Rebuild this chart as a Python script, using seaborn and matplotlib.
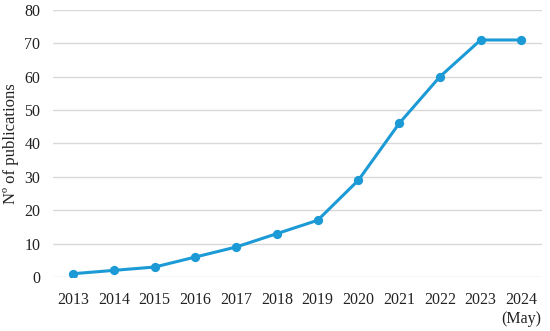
import pandas as pd
import seaborn as sns
import matplotlib.pyplot as plt

# data
years = ['2013', '2014', '2015', '2016', '2017', '2018', '2019', '2020', '2021', '2022', '2023', '2024\n(May)']
publications = [1, 2, 3, 6, 9, 13, 17, 29, 46, 60, 71, 71]

df = pd.DataFrame({'year': years, 'n': publications})

sns.set_theme(style='white')
plt.rcParams['font.family'] = ['Liberation Serif', 'DejaVu Serif']

fig = plt.figure(figsize=(5.5, 3.31), dpi=100)
ax = fig.add_axes([0.096, 0.163, 0.889, 0.807])

sns.pointplot(data=df, x='year', y='n', color='#1b9ad6', ax=ax,
              markers='o', markersize=5, linewidth=2.2)

ax.set_ylim(0, 80)
ax.set_xlim(-0.5, len(years) - 0.5)
ax.set_yticks(range(0, 81, 10))
ax.yaxis.grid(True, color='#d9d9d9', linewidth=1)
ax.set_axisbelow(True)
for s in ax.spines.values():
    s.set_visible(False)
ax.tick_params(axis='both', length=0, labelsize=11.5, colors='#222222')
ax.tick_params(axis='y', pad=9)
ax.tick_params(axis='x', pad=11)
ax.set_xlabel('')
ax.set_ylabel('Nº of publications', fontsize=12, color='#222222', labelpad=4)

fig.savefig('out.png', dpi=100)
